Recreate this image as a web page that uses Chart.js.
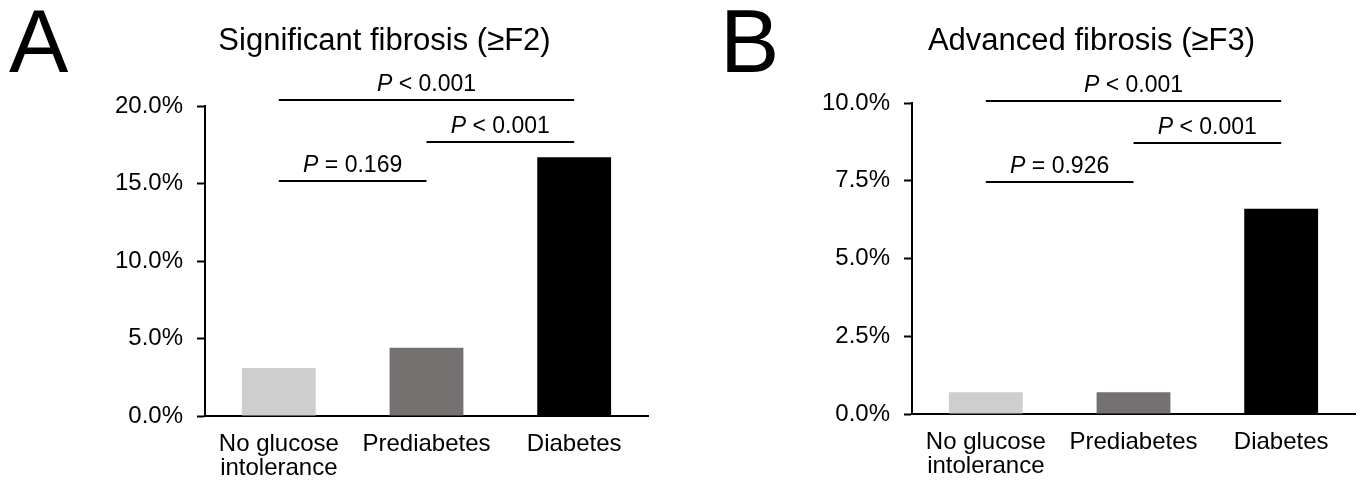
<!DOCTYPE html>
<html>
<head>
<meta charset="utf-8">
<script src="https://cdn.jsdelivr.net/npm/chart.js@4.4.1/dist/chart.umd.min.js"></script>
<style>
  html, body { margin: 0; padding: 0; background: #ffffff; }
  #wrap { position: relative; width: 1361px; height: 482px; background: #ffffff; overflow: hidden; }
  canvas { position: absolute; top: 0; }
</style>
</head>
<body>
<div id="wrap">
  <canvas id="cA" width="680" height="482" style="left:0px"></canvas>
  <canvas id="cB" width="681" height="482" style="left:680px"></canvas>
</div>
<script>
// ---- data ----
const categories = [["No glucose", "intolerance"], "Prediabetes", "Diabetes"];
const barColors = ["#cfcecf", "#767171", "#000000"];

const titleA = "Significant fibrosis (\u2265F2)";
const valuesA = [3.1, 4.4, 16.7];          // %
const yTicksA = [0, 5, 10, 15, 20];
const bracketFromA = [0, 1, 0];
const bracketToA   = [2, 2, 1];
const bracketLevelA = [20.4, 17.7, 15.15]; // in % units
const pOpA = ["<", "<", "="];
const pValA = ["0.001", "0.001", "0.169"];

const titleB = "Advanced fibrosis (\u2265F3)";
const valuesB = [0.7, 0.7, 6.6];           // %
const yTicksB = [0, 2.5, 5, 7.5, 10];
const bracketFromB = [0, 1, 0];
const bracketToB   = [2, 2, 1];
const bracketLevelB = [10.06, 8.71, 7.46];
const pOpB = ["<", "<", "="];
const pValB = ["0.001", "0.001", "0.926"];

const FONT = "'Liberation Sans', Arial, Helvetica, sans-serif";

function makePanel(canvasId, cfg) {
  const overlay = {
    id: 'overlay',
    afterDraw(chart) {
      const ctx = chart.ctx;
      const xs = chart.scales.x, ys = chart.scales.y;
      ctx.save();
      ctx.fillStyle = '#000';
      ctx.strokeStyle = '#000';
      // panel letter
      ctx.font = "89px " + FONT;
      ctx.textAlign = 'left';
      ctx.textBaseline = 'alphabetic';
      ctx.fillText(cfg.letter, cfg.letterX, 72);
      // title
      ctx.font = "31px " + FONT;
      ctx.textAlign = 'center';
      ctx.fillText(cfg.title, (chart.chartArea.left + chart.chartArea.right) / 2 - 42, 50);
      // brackets
      ctx.lineWidth = 2;
      for (let i = 0; i < cfg.from.length; i++) {
        const x1 = xs.getPixelForValue(cfg.from[i]);
        const x2 = xs.getPixelForValue(cfg.to[i]);
        const y = Math.round(ys.getPixelForValue(cfg.level[i]));
        ctx.beginPath();
        ctx.moveTo(x1, y);
        ctx.lineTo(x2, y);
        ctx.stroke();
        // label: italic P + " op value"
        const pFont = "italic 23px " + FONT;
        const rFont = "23px " + FONT;
        const rest = " " + cfg.op[i] + " " + cfg.val[i];
        ctx.font = pFont;
        const wP = ctx.measureText("P").width;
        ctx.font = rFont;
        const wR = ctx.measureText(rest).width;
        const cx = (x1 + x2) / 2;
        const sx = cx - (wP + wR) / 2;
        ctx.textAlign = 'left';
        ctx.font = pFont;
        ctx.fillText("P", sx, y - 9.5);
        ctx.font = rFont;
        ctx.fillText(rest, sx + wP, y - 9.5);
      }
      ctx.restore();
    }
  };

  return new Chart(document.getElementById(canvasId), {
    type: 'bar',
    data: {
      labels: categories,
      datasets: [{
        data: cfg.values,
        backgroundColor: barColors,
        borderWidth: 0,
        barPercentage: 0.5,
        categoryPercentage: 1.0
      }]
    },
    options: {
      responsive: false,
      animation: false,
      devicePixelRatio: 1,
      layout: { padding: { left: 0, right: cfg.padRight, top: cfg.padTop, bottom: 0 } },
      plugins: { legend: { display: false }, title: { display: false }, tooltip: { enabled: false } },
      scales: {
        x: {
          grid: { display: false, drawTicks: false },
          border: { display: true, color: '#000', width: 2 },
          ticks: {
            color: '#000',
            font: { family: FONT, size: 24, lineHeight: 0.98 },
            padding: 17,
            maxRotation: 0,
            autoSkip: false
          },
          afterFit(scale) { scale.height = cfg.xHeight; }
        },
        y: {
          min: 0,
          max: cfg.yTicks[cfg.yTicks.length - 1],
          afterBuildTicks(scale) { scale.ticks = cfg.yTicks.map(v => ({ value: v })); },
          grid: { display: true, drawOnChartArea: false, drawTicks: true, tickLength: 8, tickColor: '#000', tickWidth: 2 },
          border: { display: true, color: '#000', width: 2 },
          ticks: {
            color: '#000',
            font: { family: FONT, size: 24 },
            padding: 14,
            callback: (v) => Number(v).toFixed(1) + '%'
          },
          afterFit(scale) { scale.width = cfg.yWidth; }
        }
      }
    },
    plugins: [overlay]
  });
}

makePanel('cA', {
  letter: 'A', letterX: 9, title: titleA, values: valuesA, yTicks: yTicksA,
  from: bracketFromA, to: bracketToA, level: bracketLevelA, op: pOpA, val: pValA,
  yWidth: 205, xHeight: 66, padTop: 106, padRight: 32
});
makePanel('cB', {
  letter: 'B', letterX: 40, title: titleB, values: valuesB, yTicks: yTicksB,
  from: bracketFromB, to: bracketToB, level: bracketLevelB, op: pOpB, val: pValB,
  yWidth: 232, xHeight: 68, padTop: 103, padRight: 6
});
</script>
</body>
</html>
